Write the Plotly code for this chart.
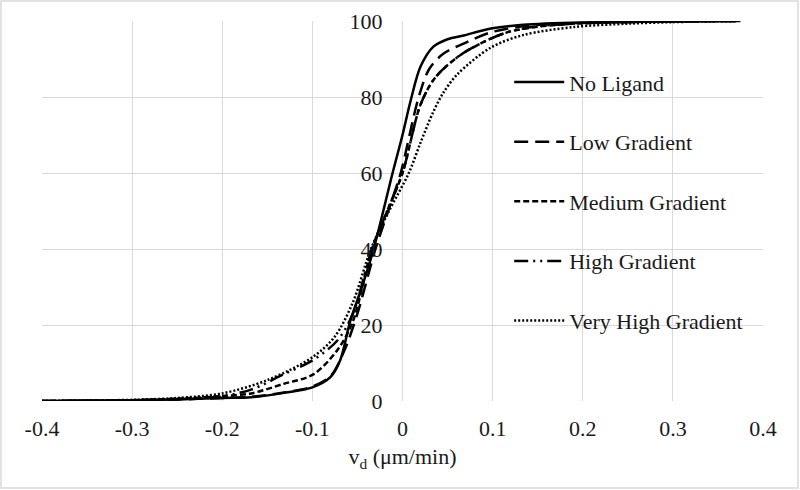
import plotly.graph_objects as go

# ---- data ----
no_ligand_x = [-0.4, -0.3, -0.25, -0.2, -0.168, -0.13, -0.1, -0.08, -0.069, -0.058, -0.045, -0.032,
               -0.011, 0.0, 0.009, 0.02, 0.034, 0.05, 0.068, 0.098, 0.134, 0.2, 0.3, 0.375]
no_ligand_y = [0, 0.2, 0.4, 0.8, 1.0, 2.2, 3.6, 6.3, 10.8, 21, 30, 40,
               60, 70, 79, 88, 93.2, 95.2, 96.2, 98, 99, 99.6, 99.9, 100]

low_x = [-0.4, -0.3, -0.25, -0.2, -0.168, -0.13, -0.1, -0.08, -0.065, -0.05, -0.03, -0.013,
         -0.002, 0.018, 0.03, 0.046, 0.072, 0.098, 0.134, 0.2, 0.3, 0.37]
low_y = [0, 0.2, 0.4, 0.8, 1.1, 2.3, 3.8, 6.5, 13, 23, 40, 52,
         60, 80, 87.5, 91.5, 94.5, 97, 98.6, 99.5, 99.9, 100]

medium_x = [-0.4, -0.3, -0.25, -0.2, -0.168, -0.132, -0.099, -0.072, -0.055, -0.034, -0.017,
            0.0, 0.02, 0.036, 0.061, 0.086, 0.116, 0.15, 0.2, 0.3, 0.37]
medium_y = [0, 0.2, 0.6, 1.3, 2.0, 4.5, 7.0, 13.5, 21, 40, 50,
            60, 78, 85, 90.5, 94, 97, 98.5, 99.4, 99.9, 100]

high_x = [-0.4, -0.3, -0.25, -0.205, -0.168, -0.132, -0.099, -0.072, -0.055, -0.034, -0.017,
          0.0, 0.02, 0.036, 0.061, 0.086, 0.116, 0.15, 0.2, 0.3, 0.37]
high_y = [0, 0.2, 0.5, 1.1, 3.0, 7.0, 10.8, 16, 23, 40, 50,
          60, 78, 85, 90.5, 94, 97, 98.6, 99.4, 99.9, 100]

very_high_x = [-0.4, -0.3, -0.25, -0.2, -0.15, -0.1, -0.075, -0.055, -0.035, -0.015, 0.007,
               0.02, 0.034, 0.045, 0.061, 0.098, 0.134, 0.19, 0.25, 0.3, 0.37]
very_high_y = [0, 0.3, 0.8, 2.0, 5.5, 11.5, 17, 26, 40, 50, 60,
               68, 76, 81, 86, 93, 96.3, 98.4, 99.3, 99.7, 100]

series_names = ["No Ligand", "Low Gradient", "Medium Gradient", "High Gradient", "Very High Gradient"]
x_tick_vals = [-0.4, -0.3, -0.2, -0.1, 0, 0.1, 0.2, 0.3, 0.4]
x_tick_labels = ["-0.4", "-0.3", "-0.2", "-0.1", "0", "0.1", "0.2", "0.3", "0.4"]
y_tick_vals = [0, 20, 40, 60, 80, 100]
y_tick_labels = ["0", "20", "40", "60", "80", "100"]

series = [
    (no_ligand_x, no_ligand_y, "solid"),
    (low_x, low_y, "14px,7px"),
    (medium_x, medium_y, "6px,3px"),
    (high_x, high_y, "14px,5px,2px,5px,2px,5px"),
    (very_high_x, very_high_y, "2px,2px"),
]

FONT = "Liberation Serif, Times New Roman, serif"
GRID = "#d9d9d9"
TXT = "#1a1a1a"

fig = go.Figure()
for i, ((xs, ys, dash), name) in enumerate(zip(series, series_names)):
    fig.add_trace(go.Scatter(
        x=xs, y=ys, mode="lines", name=name, legendgroup=f"g{i}",
        line=dict(color="black", width=2.5, dash=dash, shape="spline", smoothing=0.9),
    ))

fig.update_layout(
    width=800, height=490,
    margin=dict(l=42, r=37, t=21, b=89),
    paper_bgcolor="white", plot_bgcolor="white",
    font=dict(family=FONT, size=22, color=TXT),
    showlegend=True,
    legend=dict(
        x=0.648, xanchor="left", y=0.894, yanchor="top",
        bgcolor="rgba(0,0,0,0)", borderwidth=0,
        font=dict(family=FONT, size=22, color=TXT),
        tracegroupgap=28, itemwidth=50,
    ),
    xaxis=dict(
        range=[-0.4, 0.4], tickvals=x_tick_vals, ticktext=x_tick_labels,
        showgrid=True, gridcolor=GRID, gridwidth=1, zeroline=False,
        showline=False, ticks="", ticklabelstandoff=12, automargin=False,
        title=dict(text="v<sub>d</sub> (μm/min)", standoff=8,
                   font=dict(family=FONT, size=22, color=TXT)),
        fixedrange=True,
    ),
    yaxis=dict(
        range=[0, 100], tickvals=y_tick_vals, ticktext=y_tick_labels,
        showgrid=True, gridcolor=GRID, gridwidth=1, zeroline=False,
        showline=False, ticks="", anchor="free", position=0.5,
        ticklabelstandoff=20, fixedrange=True, automargin=False,
    ),
    shapes=[
        dict(type="rect", xref="paper", yref="paper",
             x0=(1 - 42) / 721, x1=(798 - 42) / 721,
             y0=(401 - 488) / 380, y1=(401 - 1) / 380,
             line=dict(color=GRID, width=1.5), layer="below"),
    ],
)

fig.write_html("out.html", config={"displayModeBar": False},
               post_script="document.body.style.margin='0';")
